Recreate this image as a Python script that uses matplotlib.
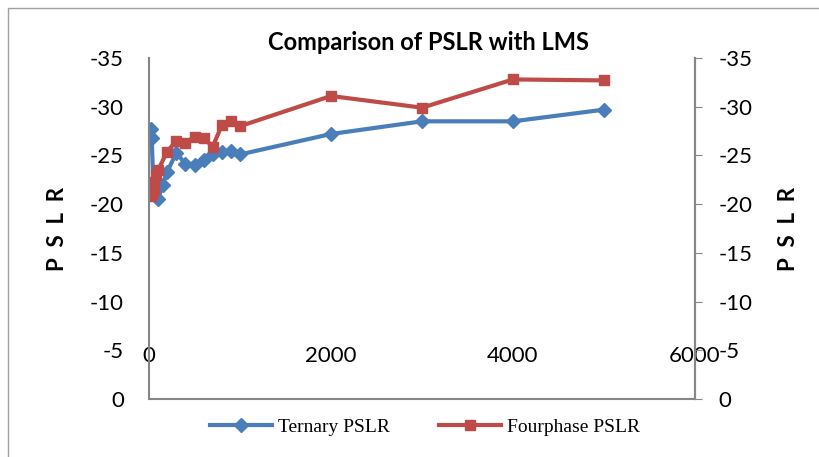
import numpy as np
import matplotlib.pyplot as plt
from matplotlib.patches import Rectangle

# data
ternary_x = [20, 30, 50, 100, 150, 200, 300, 400, 500, 600, 700, 800, 900, 1000, 2000, 3000, 4000, 5000]
ternary_y = [-27.7, -26.8, -21.2, -20.5, -22.0, -23.3, -25.3, -24.1, -24.0, -24.5, -25.1, -25.4, -25.5, -25.1, -27.2, -28.5, -28.5, -29.7]

four_x = [20, 30, 50, 60, 80, 100, 200, 300, 400, 500, 600, 700, 800, 900, 1000, 2000, 3000, 4000, 5000]
four_y = [-20.8, -21.0, -21.5, -22.3, -23.0, -23.5, -25.4, -26.5, -26.3, -26.9, -26.8, -25.9, -28.1, -28.5, -28.0, -31.1, -29.9, -32.8, -32.7]

y_ticks = [0, -5, -10, -15, -20, -25, -30, -35]
x_ticks = [0, 2000, 4000, 6000]

blue = '#4a7ebb'
red = '#be4b48'
grey = '#868686'

fig = plt.figure(figsize=(8.19, 4.57), dpi=100)
fig.patches.append(Rectangle((8 / 819, -0.1), 1.2, (457 - 8) / 457 + 0.1,
                             transform=fig.transFigure, fill=False,
                             edgecolor='#a0a0a0', linewidth=1))

ax = fig.add_axes([149 / 819, 1 - 399 / 457, 546 / 819, 341 / 457])
ax.plot(ternary_x, ternary_y, color=blue, lw=3, marker='D', ms=7, label='Ternary PSLR')
ax.plot(four_x, four_y, color=red, lw=3, marker='s', ms=7, label='Fourphase PSLR')

ax.set_xlim(0, 6000)
ax.set_ylim(0, -35)
ax.set_yticks(y_ticks)
ax.set_yticklabels([str(v) for v in y_ticks])
ax.set_xticks(x_ticks)
ax.set_xticklabels([str(v) for v in x_ticks])

for lab in ax.get_yticklabels() + ax.get_xticklabels():
    lab.set_fontfamily('Lato')
    lab.set_fontsize(16)

ax.tick_params(axis='y', length=0, pad=18)
ax.tick_params(axis='x', length=0, pad=-38)

ax.spines['top'].set_visible(False)
for s in ['left', 'bottom', 'right']:
    ax.spines[s].set_color(grey)
    ax.spines[s].set_linewidth(1.5)

ax2 = ax.twinx()
ax2.set_ylim(0, -35)
ax2.set_yticks(y_ticks)
ax2.set_yticklabels([str(v) for v in y_ticks], fontfamily='Lato', fontsize=16)
ax2.tick_params(axis='y', length=5, color=grey, pad=12)
ax2.spines['top'].set_visible(False)
ax2.spines['right'].set_color(grey)
ax2.spines['right'].set_linewidth(1.5)
ax2.spines['left'].set_visible(False)
ax2.spines['bottom'].set_visible(False)

ax.set_ylabel('P  S  L  R', fontfamily='Lato', fontweight='bold', fontsize=16, labelpad=16)
ax2.set_ylabel('P  S  L  R', fontfamily='Lato', fontweight='bold', fontsize=16, labelpad=18, rotation=90)

fig.text(0.523, 1 - 42 / 457, 'Comparison of PSLR with LMS', ha='center', va='center',
         fontfamily='Lato', fontweight='bold', fontsize=17)

leg = fig.legend(loc='center', bbox_to_anchor=(425 / 819, 1 - 427 / 457), ncol=2,
                 frameon=False, prop={'family': 'Liberation Serif', 'size': 14},
                 handlelength=3.2, columnspacing=2.5, handletextpad=0.3)

fig.savefig('out.png', dpi=100)
